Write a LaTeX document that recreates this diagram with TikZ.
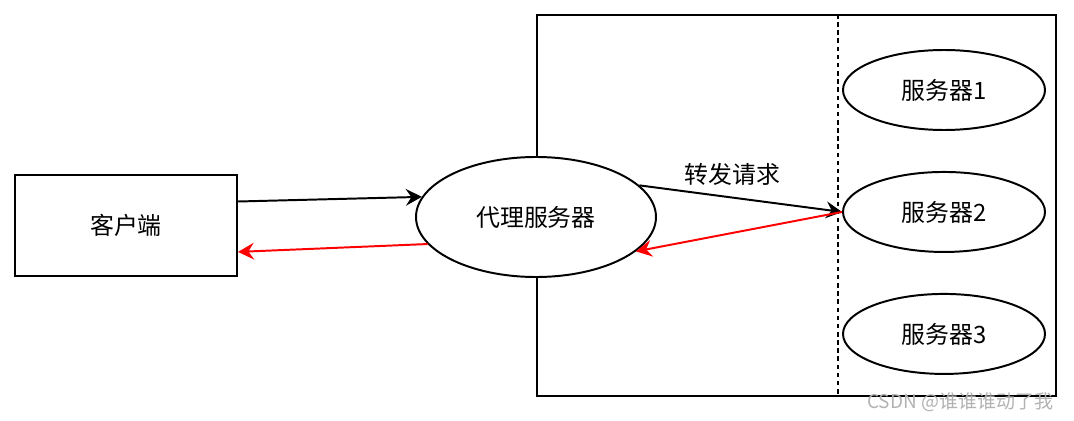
\documentclass[tikz,border=0pt]{standalone}
\usepackage{fontspec}
\newfontfamily\cjk{Noto Sans CJK SC}
\usepackage{tikz}
\usetikzlibrary{arrows.meta,positioning,shapes.geometric}

\begin{document}
\begin{tikzpicture}[
      box/.style={draw, line width=1.4pt, fill=white, inner sep=0pt,
                  minimum width=5.55cm, minimum height=2.525cm,
                  font=\cjk\fontsize{17}{20}\selectfont},
      proxy/.style={draw, ellipse, line width=1.4pt, fill=white, inner sep=0pt,
                  minimum width=6cm, minimum height=3cm,
                  font=\cjk\fontsize{17}{20}\selectfont},
      srv/.style={draw, ellipse, line width=1.4pt, fill=white, inner sep=0pt,
                  minimum width=5.05cm, minimum height=2cm,
                  font=\cjk\fontsize{17}{20}\selectfont},
      arr/.style={-{Stealth[length=4mm,width=4.2mm,inset=1.4mm]}, line width=1.4pt},
      redarr/.style={arr, color=red}
  ]
    \useasboundingbox (0,0) rectangle (26.85,10.5);
    \node[draw, line width=1.4pt, minimum width=12.975cm, minimum height=9.525cm,
          inner sep=0pt] (pool) at (19.9125,5.3625) {};
    \node[box] (client) at (3.15,4.8625) {客户端};
    \node[proxy] (agent) at (13.4,5.075) {代理服务器};
    \node[srv] (s1) at (23.6,8.25) {服务器1};
    \node[srv, below=1cm of s1] (s2) {服务器2};
    \node[srv, below=1cm of s2] (s3) {服务器3};
    \draw[line width=1.4pt, dash pattern=on 3.2pt off 2.6pt]
          ([xshift=-0.1cm]pool.north -| s1.west)
          -- ([xshift=-0.1cm]pool.south -| s1.west);
    \draw[arr] ([yshift=0.6cm]client.east) -- (agent.170);
    \draw[redarr] (agent.194) -- ([yshift=-0.66cm]client.east);
    \draw[arr] (agent.17) -- (s2.west)
          node[midway, above=0.2cm, xshift=-0.2cm, font=\cjk\fontsize{17}{20}\selectfont]{转发请求};
    \draw[redarr] (s2.west) -- (agent.341);
    \node[anchor=east, text=gray!60, font=\cjk\fontsize{13.5}{15}\selectfont]
          (mark) at (26.45,0.45) {CSDN @谁谁谁动了我};
\end{tikzpicture}
\end{document}
